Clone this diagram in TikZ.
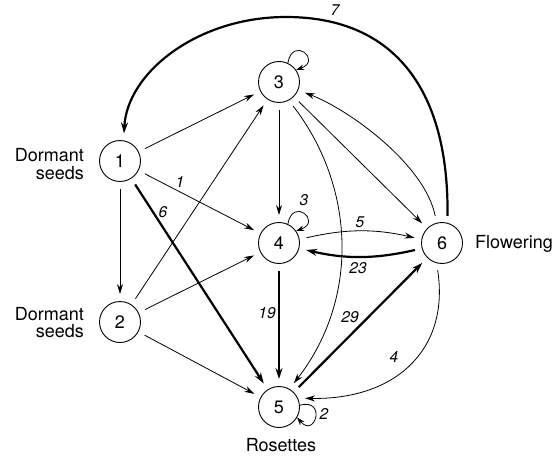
\documentclass[tikz,border=0pt]{standalone}
\usepackage{fontspec}
\setmainfont{TeX Gyre Heros}
\usetikzlibrary{arrows.meta}
\begin{document}
\begin{tikzpicture}[x=1pt,y=1pt,
  state/.style={circle,draw,line width=0.9pt,minimum size=41pt,inner sep=0pt,font=\fontsize{18}{18}\selectfont},
  thinedge/.style={line width=0.8pt,-{Stealth[length=10pt,width=6pt]},shorten <=7pt,shorten >=7pt},
  thickedge/.style={line width=2.2pt,-{Stealth[length=11pt,width=7pt]},shorten <=7pt,shorten >=7pt},
  selfloop/.style={line width=0.8pt,-{Stealth[length=8pt,width=5.5pt]}},
  elabel/.style={font=\fontsize{15.5}{16}\selectfont\itshape,inner sep=0pt},
  txt/.style={font=\fontsize{18}{17.5}\selectfont,inner sep=0pt}]
\useasboundingbox (0,0) rectangle (554,-457);

\node[state] (n1) at (120,-161) {1};
\node[state] (n2) at (120,-322) {2};
\node[state] (n3) at (279,-82) {3};
\node[state] (n4) at (279,-243) {4};
\node[state] (n5) at (279,-407) {5};
\node[state] (n6) at (442,-243) {6};

\node[txt,anchor=north east,align=right] (d1) at (84,-148.5) {Dormant\\seeds};
\node[txt,anchor=north east,align=right] (d2) at (84,-307) {Dormant\\seeds};
\node[txt,anchor=base west] (fl) at (475,-248.5) {Flowering};
\node[txt,anchor=base] (ro) at (281,-451.5) {Rosettes};

\draw[thinedge] (n1) -- (n3);
\draw[thinedge] (n1) -- (n4);
\draw[thickedge] (n1) -- (n5);
\draw[thinedge] (n1) -- (n2);
\draw[thinedge] (n2) -- (n3);
\draw[thinedge] (n2) -- (n4);
\draw[thinedge] (n2) -- (n5);
\draw[thinedge] (n3) -- (n4);
\draw[thinedge] (n3) -- (n6);
\draw[thinedge] (n3.-62) .. controls (355,-186) and (360,-298) .. (n5.60);
\draw[thinedge] (n6.105) .. controls (425,-165) and (350,-110) .. (n3.-23);
\draw[thickedge] (n6.75) .. controls (449,-92) and (396,-17) .. (286,-17) .. controls (197,-17) and (127,-73) .. (n1.80);
\draw[thinedge] (n4.10) to[bend left=13] (n6.170);
\draw[thickedge] (n6.195) to[bend left=13] (n4.-15);
\draw[thickedge] (n4) -- (n5);
\draw[thickedge] (n5) -- (n6);
\draw[thinedge] (n6.-105) .. controls (450,-350) and (395,-400) .. (n5.25);

\draw[selfloop] (n3.65) .. controls +(80:28) and +(20:28) .. (n3.35);
\draw[selfloop] (n4.65) .. controls +(80:28) and +(20:28) .. (n4.35);
\draw[selfloop] (n5.5) .. controls +(15:28) and +(-50:28) .. (n5.-30);

\node[elabel] (l7) at (335,-10) {7};
\node[elabel] (l1) at (180,-182) {1};
\node[elabel] (l6) at (163,-212) {6};
\node[elabel] (l3) at (304,-200) {3};
\node[elabel] (l5) at (360,-222) {5};
\node[elabel] (l23) at (358,-268) {23};
\node[elabel] (l19) at (267,-313) {19};
\node[elabel] (l29) at (350,-317) {29};
\node[elabel] (l4) at (394,-357) {4};
\node[elabel] (l2) at (324,-414) {2};
\end{tikzpicture}
\end{document}
